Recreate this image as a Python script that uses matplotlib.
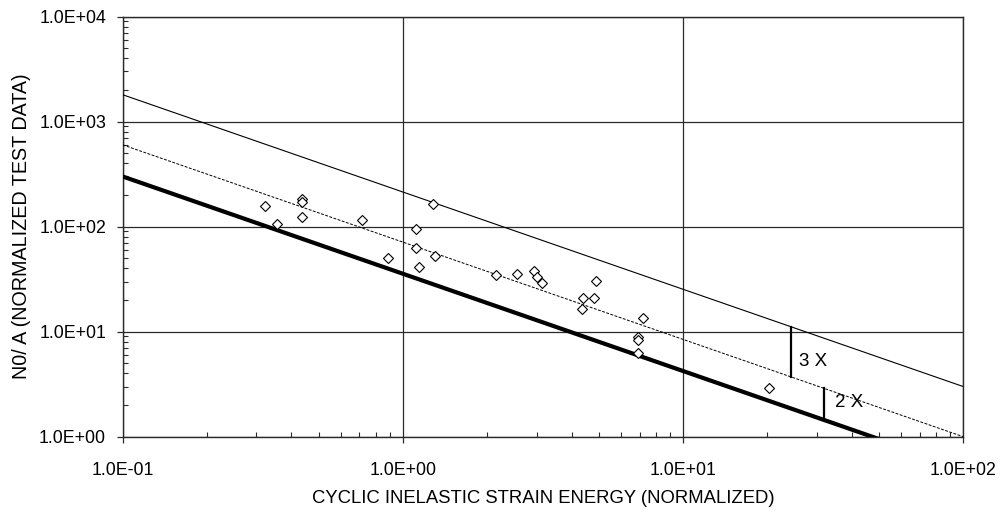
import numpy as np
import matplotlib
matplotlib.use("Agg")
import matplotlib.pyplot as plt
from matplotlib.ticker import LogLocator, FuncFormatter, NullFormatter

# ---- data ----
energy = [0.322, 0.356, 0.438, 0.438, 0.438, 0.715, 0.883, 1.118, 1.118, 1.139,
          1.277, 1.305, 2.15, 2.56, 2.94, 3.01, 3.14, 4.89, 4.39, 4.80,
          4.37, 7.19, 6.92, 6.92, 6.92, 20.3]
cycles = [158, 106, 183, 170, 124, 116, 49.9, 94.9, 61.9, 41.1,
          165, 52.5, 34.4, 35.2, 37.5, 33.1, 29.2, 30.5, 20.9, 21.0,
          16.4, 13.4, 8.84, 8.33, 6.26, 2.89]

line_x = [0.1, 100.0]
lower_curve = [300.0, 0.5]
mean_curve = [600.0, 1.0]
upper_curve = [1800.0, 3.0]

factor_labels = ["3 X", "2 X"]
factor_bar_x = [24.3, 31.9]
factor_text_x = [25.9, 34.8]
factor_text_y = [5.25, 2.11]

x_ticks = [0.1, 1, 10, 100]
y_ticks = [1, 10, 100, 1000, 10000]

xlabel = "CYCLIC INELASTIC STRAIN ENERGY (NORMALIZED)"
ylabel = "N0/ A (NORMALIZED TEST DATA)"

plt.rcParams['font.family'] = ['Liberation Sans', 'DejaVu Sans']

fig = plt.figure(figsize=(10.01, 5.15), dpi=100)
ax = fig.add_axes([122.7 / 1001, 1 - 436.7 / 515, (963.3 - 122.7) / 1001, (436.7 - 16.5) / 515])

ax.set_xscale('log')
ax.set_yscale('log')
ax.set_xlim(x_ticks[0], x_ticks[-1])
ax.set_ylim(y_ticks[0], y_ticks[-1])

grid_col = '#2a2a2a'
ax.grid(True, which='major', color=grid_col, linewidth=0.9)
ax.set_axisbelow(True)
for s in ax.spines.values():
    s.set_color(grid_col)
    s.set_linewidth(1.0)

ax.plot(line_x, upper_curve, color='black', linewidth=0.8, zorder=3)
ax.plot(line_x, mean_curve, color='black', linewidth=0.7, linestyle=(0, (3, 1.5)), zorder=3)
ax.plot(line_x, lower_curve, color='black', linewidth=3.0, zorder=3, solid_capstyle='butt')


def curve_at(xv, ys):
    lx = np.log10(line_x)
    ly = np.log10(ys)
    return 10 ** np.interp(np.log10(xv), lx, ly)


# factor bars: 3X between mean and upper, 2X between lower and mean
pairs = [(mean_curve, upper_curve), (lower_curve, mean_curve)]
for xb, (lo, hi), lab, tx, ty in zip(factor_bar_x, pairs, factor_labels, factor_text_x, factor_text_y):
    ax.plot([xb, xb], [curve_at(xb, lo), curve_at(xb, hi)], color='black', linewidth=1.6, zorder=4)
    ax.text(tx, ty, lab, fontsize=13.5, ha='left', va='center', zorder=5)

ax.plot(energy, cycles, linestyle='none', marker='D', markersize=4.9,
        markerfacecolor='white', markeredgecolor='black', markeredgewidth=0.8, zorder=6)

fmt = FuncFormatter(lambda v, p: format(v, '.1E'))
ax.xaxis.set_major_locator(LogLocator(base=10, numticks=10))
ax.yaxis.set_major_locator(LogLocator(base=10, numticks=10))
ax.xaxis.set_minor_locator(LogLocator(base=10, subs=np.arange(2, 10), numticks=20))
ax.yaxis.set_minor_locator(LogLocator(base=10, subs=np.arange(2, 10), numticks=20))
ax.xaxis.set_major_formatter(fmt)
ax.yaxis.set_major_formatter(fmt)
ax.xaxis.set_minor_formatter(NullFormatter())
ax.yaxis.set_minor_formatter(NullFormatter())

ax.tick_params(axis='both', which='major', direction='out', length=4.5, width=0.9,
               color=grid_col, labelsize=12.8)
ax.tick_params(axis='both', which='minor', direction='in', length=3.5, width=0.8, color=grid_col)
ax.tick_params(axis='x', which='major', pad=13.5)
ax.tick_params(axis='y', which='major', pad=7.5)
ax.tick_params(top=False, right=False, which='both')

ax.set_xlabel(xlabel, fontsize=13.3, labelpad=8)
ax.set_ylabel(ylabel, fontsize=14.2, labelpad=6)

fig.savefig('out.png', dpi=100)
